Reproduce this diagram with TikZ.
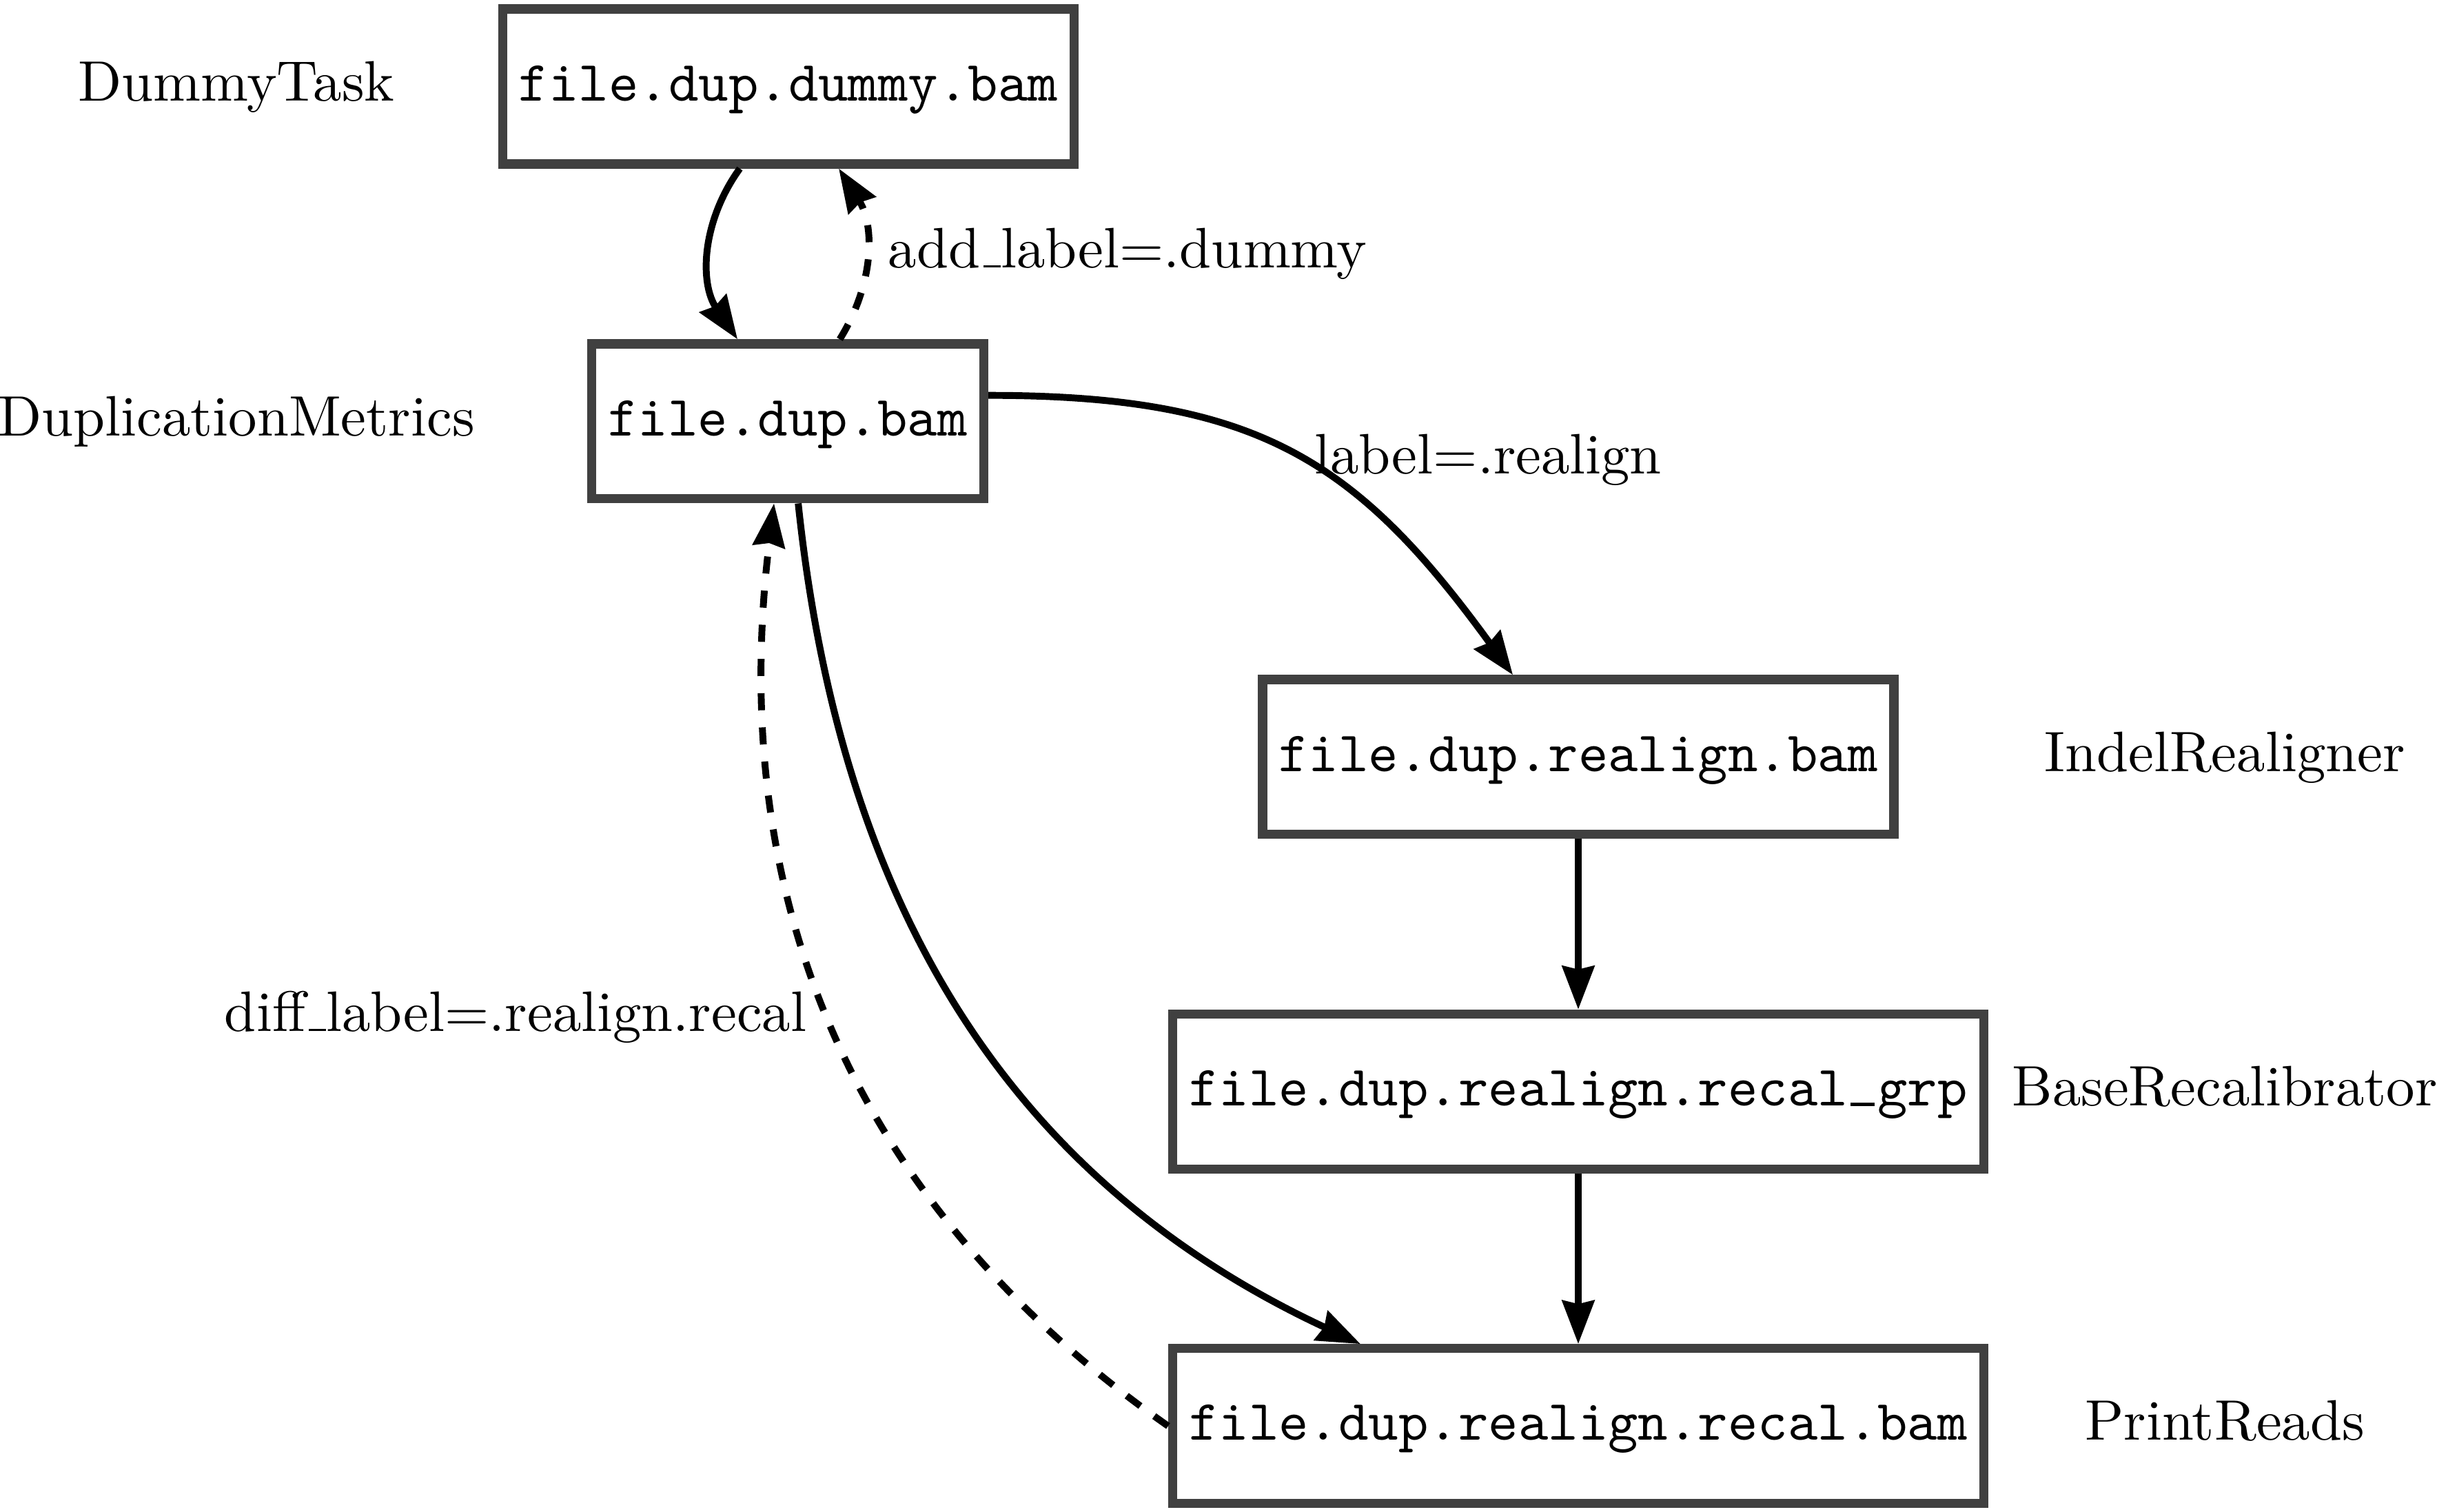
\documentclass[tikz,border=0pt]{standalone}
\usepackage{tikz}
\usetikzlibrary{positioning,arrows.meta}

\newcommand{\usc}{\leavevmode\kern.06em\vbox{\hrule width.3em}}
\newcommand{\ttusc}{\makebox[0.525em]{\rule{0.42em}{0.5pt}}}

\begin{document}
\begin{tikzpicture}[font=\rmfamily,
	file/.style={rectangle,draw=black!75,line width=1.6pt,minimum height=0.955cm,
		inner xsep=0.1cm,text height=7pt,text depth=2pt,font=\ttfamily},
	task/.style={inner sep=0pt,text height=7pt,text depth=2pt},
	dep/.style={-{Stealth[length=7.6pt,width=5.6pt,inset=0.6pt]},line width=1.2pt},
	back/.style={dep,dashed}]
		\useasboundingbox (0,0) rectangle (15.015,9.316);
		\coordinate (lcol) at (1.456,0);
		\coordinate (rcol) at (13.707,0);
		% files
		\node[file] (dummy) at (4.858,8.783) {file.dup.dummy.bam};
		\node[file] (dup) at (4.854,6.720) {file.dup.bam};
		\node[file] (realign) at (9.724,4.652) {file.dup.realign.bam};
		\node[file,below=1.05cm of realign] (grp) {file.dup.realign.recal\ttusc grp};
		\node[file,below=1.05cm of grp] (recal) {file.dup.realign.recal.bam};
		% tasks
		\foreach \N/\T in {dummy/DummyTask,dup/DuplicationMetrics}
			\node[task] (T-\N) at (\N -| lcol) {\T};
		\foreach \N/\T in {realign/IndelRealigner,grp/BaseRecalibrator,recal/PrintReads}
			\node[task] (T-\N) at (\N -| rcol) {\T};
		% dependencies
		\draw[dep] ([xshift=-0.30cm]dummy.south) to[bend right=35] ([xshift=-0.31cm]dup.north);
		\draw[back] ([xshift=0.32cm]dup.north) to[bend right=32]
			node[anchor=west] {add\usc label=.dummy} ([xshift=0.31cm]dummy.south);
		\draw[dep] ([yshift=0.16cm]dup.east) to[out=0,in=126,looseness=1.15]
			node[pos=0.5,anchor=west,yshift=-1pt] {label=.realign} ([xshift=-0.403cm]realign.north);
		\draw[dep] ([xshift=0.064cm]dup.south) to[out=-84,in=155] ([xshift=-1.342cm]recal.north);
		\draw[back] (recal.west) to[out=145,in=-97]
			node[pos=0.51,anchor=east] {diff\usc label=.realign.recal} ([xshift=-0.085cm]dup.south);
		\draw[dep] (realign.south) -- (grp.north);
		\draw[dep] (grp.south) -- (recal.north);
\end{tikzpicture}
\end{document}
